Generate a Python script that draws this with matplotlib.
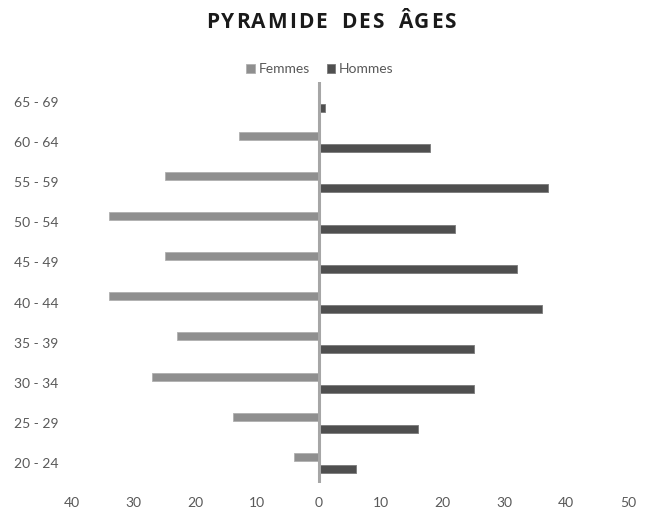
import matplotlib
matplotlib.use("Agg")
import matplotlib.pyplot as plt
import numpy as np

categories = ["20 - 24", "25 - 29", "30 - 34", "35 - 39", "40 - 44",
              "45 - 49", "50 - 54", "55 - 59", "60 - 64", "65 - 69"]
femmes = [4, 14, 27, 23, 34, 25, 34, 25, 13, 0]
hommes = [6, 16, 25, 25, 36, 32, 22, 37, 18, 1]
x_ticks = [-40, -30, -20, -10, 0, 10, 20, 30, 40, 50]
x_tick_labels = ["40", "30", "20", "10", "0", "10", "20", "30", "40", "50"]
title = "PYRAMIDE DES ÂGES"

plt.rcParams['font.family'] = ['Lato', 'DejaVu Sans']

W, H = 649, 508
fig = plt.figure(figsize=(W/100, H/100), dpi=100)
ax = fig.add_axes([72/W, 1-483/H, (628-72)/W, (483-82)/H])

y = np.arange(len(categories))
h = 0.2
off = 0.155
ax.barh(y + off, [-v for v in femmes], height=h, color="#8f8f8f",
        edgecolor="#b0b0b0", linewidth=0.6, label="Femmes", zorder=2)
ax.barh(y - off, hommes, height=h, color="#4f4f4f",
        edgecolor="#7a7a7a", linewidth=0.6, label="Hommes", zorder=2)

ax.axvline(0, color="#a6a6a6", linewidth=2.2, zorder=3)

ax.set_xlim(-40, 50)
ax.set_ylim(-0.5, len(categories) - 0.5)
ax.set_xticks(x_ticks)
ax.set_xticklabels(x_tick_labels)
ax.set_yticks(y)
ax.set_yticklabels(categories)
ax.tick_params(axis='both', length=0, labelsize=10, labelcolor="#595959")
ax.tick_params(axis='x', pad=10)
ax.tick_params(axis='y', pad=10)
for s in ax.spines.values():
    s.set_visible(False)

# Letter-spaced title
renderer = fig.canvas.get_renderer()
tkw = dict(fontsize=15, fontweight="bold", family=["Open Sans", "DejaVu Sans"],
           color="#1a1a1a", va="center", ha="left")
spacing = 1.8   # px between letters
space_w = 11.0  # px for a word space
widths = []
for ch in title:
    if ch == " ":
        widths.append(space_w)
        continue
    t = fig.text(0, 0, ch, **tkw)
    widths.append(t.get_window_extent(renderer).width)
    t.remove()
total = sum(widths) + spacing * (len(title) - 1)
x = 331 - total / 2
ty = 1 - 23 / H
for ch, w in zip(title, widths):
    if ch != " ":
        fig.text(x / W, ty, ch, **tkw)
    x += w + spacing

leg = fig.legend(loc="center", bbox_to_anchor=(320/W, 1-69/H), ncol=2,
                 frameon=False, fontsize=10, handlelength=0.6, handleheight=0.6,
                 handletextpad=0.3, columnspacing=1.2)
for t in leg.get_texts():
    t.set_color("#595959")

fig.savefig("out.png", dpi=100, facecolor="white")
